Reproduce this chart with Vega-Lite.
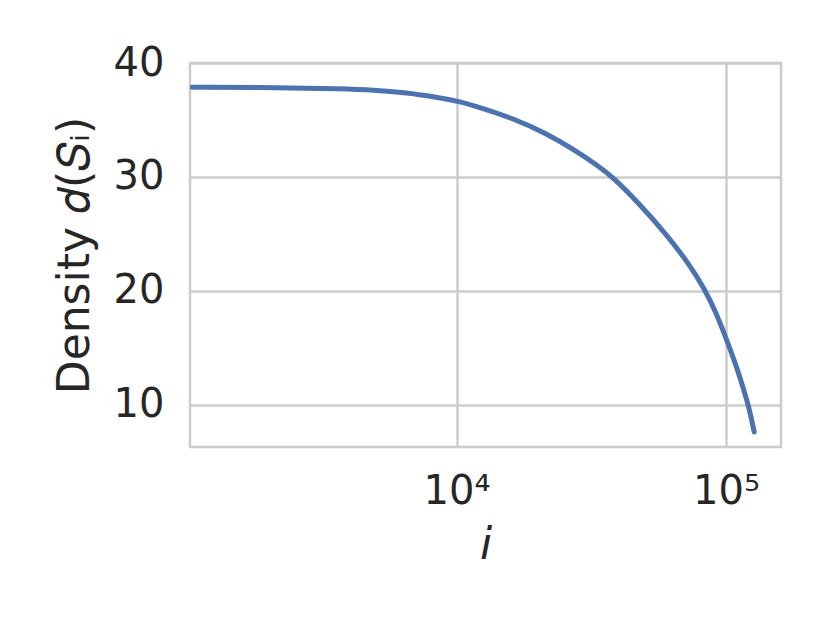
{
  "$schema": "https://vega.github.io/schema/vega-lite/v6.json",
  "autosize": "none",
  "width": 591,
  "height": 384,
  "padding": {"left": 190, "top": 63, "right": 49, "bottom": 176},
  "background": "white",
  "config": {
    "font": "DejaVu Sans",
    "view": {"stroke": "#cccccc", "strokeWidth": 2.5},
    "axis": {
      "domain": false,
      "ticks": false,
      "grid": true,
      "gridColor": "#cccccc",
      "gridWidth": 2.5,
      "labelFont": "DejaVu Sans",
      "titleFont": "DejaVu Sans",
      "labelColor": "#262626",
      "titleColor": "#262626",
      "labelFontSize": 40,
      "titleFontSize": 44,
      "titleFontWeight": "normal"
    }
  },
  "data": {
    "values": [
      {"i": 1043, "d": 37.88},
      {"i": 2216, "d": 37.84},
      {"i": 3697, "d": 37.73},
      {"i": 4911, "d": 37.64},
      {"i": 6528, "d": 37.40},
      {"i": 8672, "d": 36.95},
      {"i": 10000, "d": 36.68},
      {"i": 12200, "d": 36.11},
      {"i": 16200, "d": 35.14},
      {"i": 21540, "d": 33.82},
      {"i": 27030, "d": 32.45},
      {"i": 33450, "d": 31.0},
      {"i": 38020, "d": 29.98},
      {"i": 47750, "d": 27.63},
      {"i": 59960, "d": 24.98},
      {"i": 73120, "d": 22.33},
      {"i": 83100, "d": 20.2},
      {"i": 91830, "d": 18.1},
      {"i": 100000, "d": 15.85},
      {"i": 108900, "d": 13.5},
      {"i": 116900, "d": 11.2},
      {"i": 122000, "d": 9.66},
      {"i": 127300, "d": 7.61}
    ]
  },
  "mark": {"type": "line", "color": "#4c72b0", "strokeWidth": 5, "strokeCap": "round", "strokeJoin": "round", "interpolate": "basis", "clip": true},
  "encoding": {
    "x": {
      "field": "i",
      "type": "quantitative",
      "scale": {"type": "log", "domain": [1025, 160000], "nice": false},
      "axis": {
        "values": [10000, 100000],
        "labelExpr": "datum.value == 10000 ? '10⁴' : '10⁵'",
        "labelPadding": 24,
        "title": "i",
        "titleFontStyle": "italic",
        "titlePadding": 12
      }
    },
    "y": {
      "field": "d",
      "type": "quantitative",
      "scale": {"domain": [6.3, 40], "nice": false, "zero": false},
      "axis": {
        "values": [10, 20, 30, 40],
        "labelPadding": 26,
        "title": "Density 𝑑(𝑆ᵢ)",
        "titlePadding": 16
      }
    }
  }
}
